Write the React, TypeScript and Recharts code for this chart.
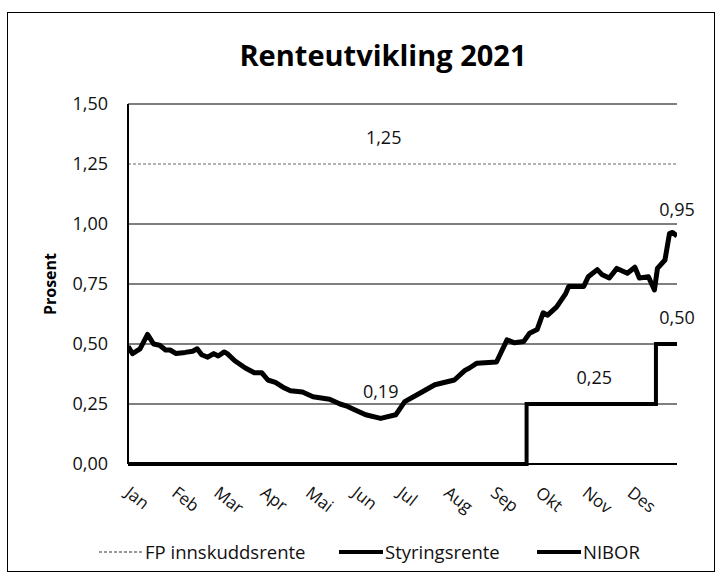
import { LineChart, Line, XAxis, YAxis, ReferenceLine } from 'recharts'

// ── Data ──────────────────────────────────────────────────────────────────────

const MONTHS = ['Jan', 'Feb', 'Mar', 'Apr', 'Mai', 'Jun', 'Jul', 'Aug', 'Sep', 'Okt', 'Nov', 'Des']
const MONTH_START_DAYS = [0, 31, 59, 90, 120, 151, 181, 212, 243, 273, 304, 334]
const Y_TICKS = [0, 0.25, 0.5, 0.75, 1, 1.25, 1.5]
const GRID_VALUES = [0.25, 0.5, 0.75, 1, 1.5]

const NIBOR_DAYS = [
  0, 3, 8, 13, 17, 21, 25, 28, 32, 38, 43, 46, 49, 53, 57, 60, 64, 66, 71, 78, 84, 89, 93, 98, 103,
  108, 116, 123, 134, 141, 146, 151, 158, 168, 178, 184, 194, 204, 217, 224, 227, 232, 245, 252,
  257, 263, 267, 272, 276, 279, 285, 291, 293, 303, 306, 312, 315, 320, 325, 332, 337, 340, 346,
  350, 352, 357, 360, 362, 365,
]
const NIBOR_VALUES = [
  0.49, 0.46, 0.48, 0.54, 0.5, 0.495, 0.475, 0.475, 0.46, 0.465, 0.47, 0.48, 0.455, 0.445, 0.46,
  0.45, 0.467, 0.46, 0.43, 0.4, 0.38, 0.38, 0.35, 0.34, 0.32, 0.305, 0.3, 0.28, 0.27, 0.25, 0.24,
  0.225, 0.205, 0.19, 0.205, 0.26, 0.295, 0.33, 0.35, 0.39, 0.4, 0.42, 0.425, 0.517, 0.505, 0.51,
  0.545, 0.56, 0.63, 0.62, 0.655, 0.71, 0.74, 0.74, 0.78, 0.81, 0.79, 0.775, 0.815, 0.795, 0.82,
  0.775, 0.78, 0.725, 0.815, 0.85, 0.96, 0.965, 0.95,
]
const NIBOR_LABEL_DAYS = [168, 365]

const STYR_DAYS = [0, 265, 310, 351, 365]
const STYR_VALUES = [0, 0.25, 0.25, 0.5, 0.5]
const STYR_LABEL_DAYS = [310, 365]

const FP_DAYS = [0, 170, 365]
const FP_VALUES = [1.25, 1.25, 1.25]
const FP_LABEL_DAYS = [170]

const toRows = (days: number[], values: number[]) => days.map((d, i) => ({ day: d, v: values[i] }))

const niborData = toRows(NIBOR_DAYS, NIBOR_VALUES)
const styrData = toRows(STYR_DAYS, STYR_VALUES)
const fpData = toRows(FP_DAYS, FP_VALUES)

const FONT = '"Open Sans", sans-serif'
const fmt = (n: number) => n.toFixed(2).replace('.', ',')

// ── Label / tick helpers ──────────────────────────────────────────────────────

function pointLabel(rows: { day: number; v: number }[], labelDays: number[]) {
  return (props: any) => {
    const { x, y, index } = props
    const row = rows[index]
    if (!row || !labelDays.includes(row.day)) return <g />
    return (
      <text x={x} y={y - 20} textAnchor="middle" fontSize={18} fontFamily={FONT} fill="#111">
        {fmt(row.v)}
      </text>
    )
  }
}

function MonthTick(props: any) {
  const { x, y, payload } = props
  const idx = MONTH_START_DAYS.indexOf(payload.value)
  const tx = x - 4
  const ty = y + 23
  return (
    <text
      x={tx}
      y={ty}
      transform={`rotate(38 ${tx} ${ty})`}
      textAnchor="start"
      fontSize={17}
      fontFamily={FONT}
      fill="#111"
    >
      {MONTHS[idx]}
    </text>
  )
}

function LegendRow() {
  const item = (left: number, label: string, dashed: boolean) => (
    <div style={{ position: 'absolute', left, top: 0, display: 'flex', alignItems: 'center' }}>
      <svg width={46} height={10}>
        <line
          x1={0}
          y1={5}
          x2={44}
          y2={5}
          stroke={dashed ? '#9a9a9a' : '#000'}
          strokeWidth={dashed ? 2 : 4}
          strokeDasharray={dashed ? '3 2' : undefined}
        />
      </svg>
      <span style={{ fontSize: 18.5, fontFamily: FONT, color: '#111' }}>{label}</span>
    </div>
  )
  return (
    <div style={{ position: 'absolute', left: 0, top: 539, width: 721, height: 26 }}>
      {item(99, 'FP innskuddsrente', true)}
      {item(339, 'Styringsrente', false)}
      {item(537, 'NIBOR', false)}
    </div>
  )
}

// ── Chart ─────────────────────────────────────────────────────────────────────

export default function App() {
  return (
    <div style={{ position: 'absolute', left: 0, top: 0, width: 721, height: 580, background: '#fff' }}>
      <div
        style={{
          position: 'absolute',
          left: 7,
          top: 12,
          width: 706,
          height: 558,
          border: '1.5px solid #000',
        }}
      />
      <div
        style={{
          position: 'absolute',
          left: 0,
          top: 35,
          width: 766,
          textAlign: 'center',
          fontFamily: FONT,
          fontWeight: 700,
          fontSize: 29,
          color: '#000',
        }}
      >
        Renteutvikling 2021
      </div>
      <div
        style={{
          position: 'absolute',
          left: 50,
          top: 284,
          transform: 'translate(-50%, -50%) rotate(-90deg)',
          fontFamily: FONT,
          fontWeight: 700,
          fontSize: 16,
          color: '#000',
          whiteSpace: 'nowrap',
        }}
      >
        Prosent
      </div>
      <div style={{ position: 'absolute', left: 0, top: 0 }}>
        <LineChart width={721} height={580} margin={{ top: 104, right: 44, bottom: 86, left: 68 }}>
          <XAxis
            dataKey="day"
            type="number"
            domain={[0, 365]}
            ticks={MONTH_START_DAYS}
            allowDataOverflow
            height={30}
            tickLine={false}
            axisLine={{ stroke: '#000', strokeWidth: 2 }}
            tick={<MonthTick />}
          />
          <YAxis
            type="number"
            domain={[0, 1.5]}
            ticks={Y_TICKS}
            width={60}
            tickSize={0}
            tickMargin={20}
            tickLine={false}
            axisLine={{ stroke: '#000', strokeWidth: 2 }}
            tickFormatter={(v) => fmt(Number(v))}
            tick={{ fontSize: 18, fontFamily: FONT, fill: '#111' }}
          />
          {GRID_VALUES.map((g) => (
            <ReferenceLine key={g} y={g} stroke="#000" strokeWidth={1.2} ifOverflow="visible" />
          ))}
          <Line
            data={fpData}
            dataKey="v"
            type="linear"
            stroke="#9a9a9a"
            strokeWidth={1.5}
            strokeDasharray="3 2"
            dot={false}
            isAnimationActive={false}
            label={pointLabel(fpData, FP_LABEL_DAYS)}
          />
          <Line
            data={styrData}
            dataKey="v"
            type="stepAfter"
            stroke="#000"
            strokeWidth={4}
            dot={false}
            isAnimationActive={false}
            label={pointLabel(styrData, STYR_LABEL_DAYS)}
          />
          <Line
            data={niborData}
            dataKey="v"
            type="linear"
            stroke="#000"
            strokeWidth={5}
            strokeLinejoin="round"
            dot={false}
            isAnimationActive={false}
            label={pointLabel(niborData, NIBOR_LABEL_DAYS)}
          />
        </LineChart>
      </div>
      <LegendRow />
    </div>
  )
}
